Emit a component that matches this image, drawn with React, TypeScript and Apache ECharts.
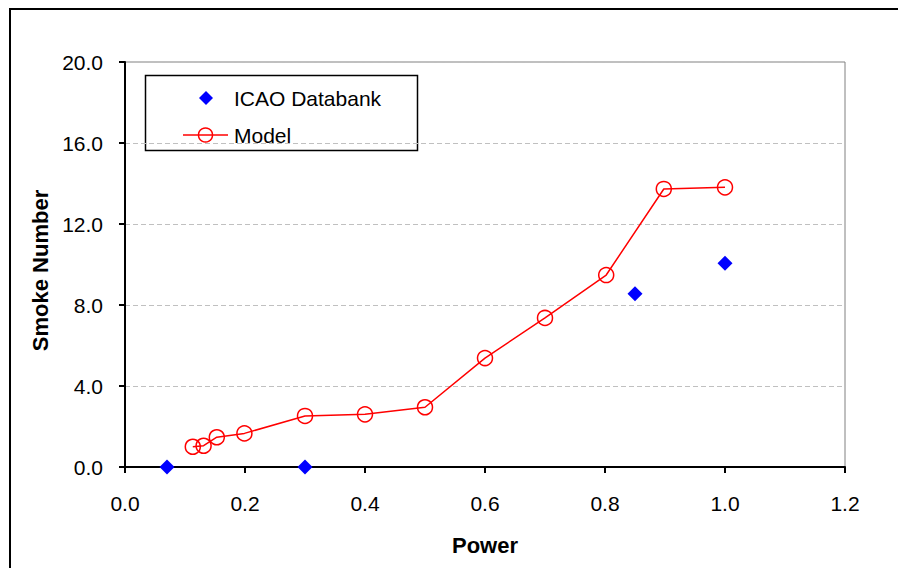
import React, { useEffect, useRef } from "react";
import * as echarts from "echarts";

const modelPower = [0.113, 0.131, 0.153, 0.199, 0.3, 0.4, 0.5, 0.6, 0.7, 0.802, 0.898, 1.0];
const modelSmoke = [1.0, 1.05, 1.47, 1.66, 2.52, 2.6, 2.95, 5.38, 7.36, 9.48, 13.73, 13.81];
const icaoPower = [0.07, 0.3, 0.85, 1.0];
const icaoSmoke = [0.0, 0.0, 8.56, 10.06];
const seriesNames = ["ICAO Databank", "Model"];

export default function App() {
  const ref = useRef<HTMLDivElement>(null);
  useEffect(() => {
    if (!ref.current) return;
    const chart = echarts.init(ref.current, null, { renderer: "svg" });
    const font = "'Liberation Sans', Arial, sans-serif";
    const legendX = 183;
    const row1 = 98;
    const row2 = 135;
    chart.setOption({
      animation: false,
      backgroundColor: "#ffffff",
      textStyle: { fontFamily: font },
      grid: {
        left: 125,
        right: 53,
        top: 62,
        bottom: 101,
        show: true,
        borderColor: "#808080",
        borderWidth: 1,
        backgroundColor: "transparent",
      },
      xAxis: {
        type: "value",
        min: 0,
        max: 1.2,
        interval: 0.2,
        name: "Power",
        nameLocation: "middle",
        nameGap: 67,
        nameTextStyle: { fontFamily: font, fontSize: 22, fontWeight: "bold", color: "#000" },
        axisLine: { show: true, onZero: false, lineStyle: { color: "#000", width: 2 } },
        axisTick: { show: true, length: 6, lineStyle: { color: "#000", width: 2 } },
        axisLabel: {
          margin: 26,
          fontFamily: font,
          fontSize: 21,
          color: "#000",
          formatter: (v: number) => v.toFixed(1),
        },
        splitLine: { show: false },
      },
      yAxis: {
        type: "value",
        min: 0,
        max: 20,
        interval: 4,
        name: "Smoke Number",
        nameLocation: "middle",
        nameGap: 74,
        nameTextStyle: {
          fontFamily: font,
          fontSize: 22,
          fontWeight: "bold",
          color: "#000",
          padding: [0, 12, 0, 0],
        },
        axisLine: { show: true, onZero: false, lineStyle: { color: "#000", width: 2 } },
        axisTick: { show: true, length: 6, lineStyle: { color: "#000", width: 2 } },
        axisLabel: {
          margin: 22,
          fontFamily: font,
          fontSize: 21,
          color: "#000",
          formatter: (v: number) => v.toFixed(1),
        },
        splitLine: { show: true, lineStyle: { color: "#c0c0c0", type: [5, 3], width: 1 } },
      },
      graphic: [
        {
          type: "rect",
          shape: { x: 10, y: 9, width: 1000, height: 1000 },
          style: { fill: "none", stroke: "#000", lineWidth: 2 },
          silent: true,
          z: 0,
        },
        {
          type: "group",
          z: 10,
          children: [
            {
              type: "rect",
              shape: { x: 145.5, y: 75.5, width: 272, height: 75 },
              style: { fill: "#fff", stroke: "#000", lineWidth: 1.5 },
              silent: true,
            },
            {
              type: "polygon",
              shape: {
                points: [
                  [legendX + 23, row1 - 7],
                  [legendX + 30, row1],
                  [legendX + 23, row1 + 7],
                  [legendX + 16, row1],
                ],
              },
              style: { fill: "#0000ff" },
            },
            {
              type: "text",
              style: {
                x: 234,
                y: row1,
                text: seriesNames[0],
                fontFamily: font,
                fontSize: 21,
                fill: "#000",
                verticalAlign: "middle",
              },
            },
            {
              type: "line",
              shape: { x1: legendX, y1: row2, x2: legendX + 45, y2: row2 },
              style: { stroke: "#ff0000", lineWidth: 1.5 },
            },
            {
              type: "circle",
              shape: { cx: legendX + 22.5, cy: row2, r: 7 },
              style: { fill: "none", stroke: "#ff0000", lineWidth: 1.5 },
            },
            {
              type: "text",
              style: {
                x: 234,
                y: row2,
                text: seriesNames[1],
                fontFamily: font,
                fontSize: 21,
                fill: "#000",
                verticalAlign: "middle",
              },
            },
          ],
        },
      ],
      series: [
        {
          name: seriesNames[0],
          type: "scatter",
          symbol: "diamond",
          symbolSize: 15,
          itemStyle: { color: "#0000ff", opacity: 1 },
          data: icaoPower.map((p, i) => [p, icaoSmoke[i]]),
          z: 3,
        },
        {
          name: seriesNames[1],
          type: "line",
          symbol: "circle",
          symbolSize: 15,
          showSymbol: true,
          lineStyle: { color: "#ff0000", width: 1.5 },
          itemStyle: { color: "transparent", borderColor: "#ff0000", borderWidth: 1.5 },
          data: modelPower.map((p, i) => [p, modelSmoke[i]]),
          z: 3,
        },
      ],
    });
    return () => chart.dispose();
  }, []);
  return (
    <div
      ref={ref}
      style={{ position: "fixed", left: 0, top: 0, width: 898, height: 568 }}
    />
  );
}
